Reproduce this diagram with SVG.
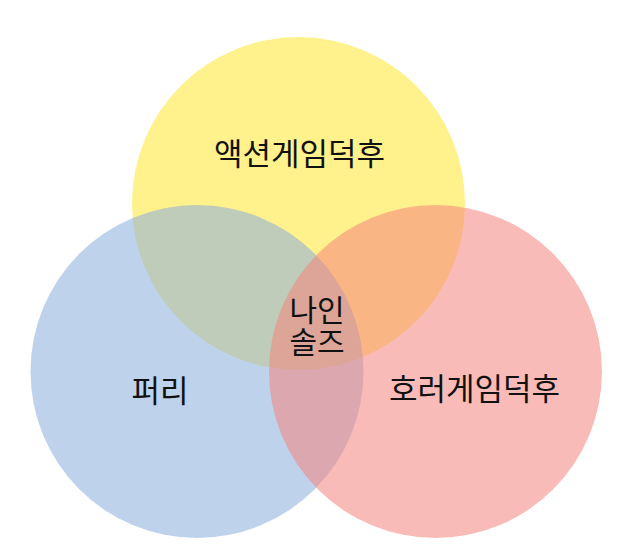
<svg xmlns="http://www.w3.org/2000/svg" width="624" height="551" viewBox="0 0 624 551">
  <style>
    .lbl { font-family: "Noto Sans CJK KR", "Noto Sans", sans-serif; font-size: 31px; fill: #111; text-anchor: middle; }
    .sm { font-size: 30px; }
    .c { stroke: none; }
  </style>
  <rect width="624" height="551" fill="#ffffff"/>
  <g id="action">
    <circle class="c" cx="298.5" cy="203.5" r="166.5" fill="#fff28c"/>
  </g>
  <g id="furry">
    <circle class="c" cx="197" cy="371.5" r="166.5" fill="#8bafdd" fill-opacity="0.56"/>
  </g>
  <g id="horror">
    <circle class="c" cx="435.5" cy="371.5" r="166.5" fill="#f4867e" fill-opacity="0.56"/>
  </g>
  <g id="connectors"></g>
  <g id="labels">
    <text class="lbl" x="299.5" y="165">액션게임덕후</text>
    <text class="lbl sm" x="317" y="321">나인</text>
    <text class="lbl sm" x="317" y="353">솔즈</text>
    <text class="lbl" x="160" y="402">퍼리</text>
    <text class="lbl" x="474.5" y="400">호러게임덕후</text>
  </g>
</svg>
